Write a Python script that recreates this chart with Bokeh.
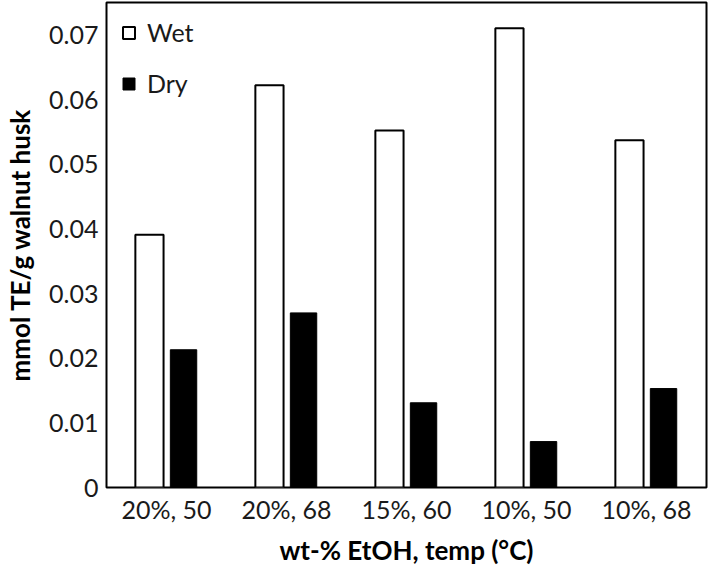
from bokeh.plotting import figure
from bokeh.models import ColumnDataSource, FactorRange, Range1d, FixedTicker, Legend, LegendItem
from bokeh.transform import dodge
from bokeh.embed import file_html
from bokeh.resources import INLINE

categories = ["20%, 50", "20%, 68", "15%, 60", "10%, 50", "10%, 68"]
wet = [0.0391, 0.0622, 0.0552, 0.0710, 0.0537]
dry = [0.0213, 0.0270, 0.0131, 0.0071, 0.0153]
y_ticks = [0, 0.01, 0.02, 0.03, 0.04, 0.05, 0.06, 0.07]
y_tick_labels = ["0", "0.01", "0.02", "0.03", "0.04", "0.05", "0.06", "0.07"]

FONT = "Lato"

src = ColumnDataSource(dict(cat=categories, wet=wet, dry=dry))

p = figure(width=709, height=568, x_range=FactorRange(*categories),
           y_range=Range1d(0, 0.075), output_backend="svg", toolbar_location=None,
           min_border_left=106, min_border_right=3, min_border_top=2, min_border_bottom=10)

r_wet = p.vbar(x=dodge("cat", -0.142, range=p.x_range), top="wet", width=0.235, source=src,
               fill_color="white", line_color="black", line_width=2)
r_dry = p.vbar(x=dodge("cat", 0.142, range=p.x_range), top="dry", width=0.22, source=src,
               fill_color="black", line_color="black", line_width=1)

p.xgrid.visible = False
p.ygrid.visible = False
p.outline_line_color = "black"
p.outline_line_width = 2
p.background_fill_color = "white"
p.border_fill_color = "white"

p.yaxis.ticker = FixedTicker(ticks=y_ticks)
p.yaxis.major_label_overrides = {t: l for t, l in zip(y_ticks, y_tick_labels)}

for ax in (p.xaxis[0], p.yaxis[0]):
    ax.major_tick_line_color = None
    ax.minor_tick_line_color = None
    ax.major_tick_out = 0
    ax.major_tick_in = 0
    ax.axis_line_color = None
    ax.major_label_text_font = FONT
    ax.major_label_text_font_size = "25px"
    ax.major_label_text_color = "#1a1a1a"
    ax.axis_label_text_font = FONT
    ax.axis_label_text_font_style = "bold"
    ax.axis_label_text_font_size = "26px"
    ax.axis_label_text_color = "black"

p.yaxis.axis_label = "mmol TE/g walnut husk"
p.yaxis.major_label_standoff = 8
p.yaxis.axis_label_standoff = 10
p.xaxis.axis_label = "wt-% EtOH, temp (°C)"
p.xaxis.major_label_standoff = 6
p.xaxis.axis_label_standoff = 7

legend = Legend(items=[LegendItem(label="Wet", renderers=[r_wet]),
                       LegendItem(label="Dry", renderers=[r_dry])],
                location="top_left", orientation="vertical")
legend.border_line_color = None
legend.background_fill_alpha = 0
legend.glyph_width = 15
legend.glyph_height = 15
legend.label_text_font = FONT
legend.label_text_font_size = "25px"
legend.label_text_color = "#1a1a1a"
legend.label_standoff = 11
legend.spacing = 21
legend.margin = 15
legend.padding = 10
p.add_layout(legend)

open("out.html", "w").write(file_html(p, INLINE))
